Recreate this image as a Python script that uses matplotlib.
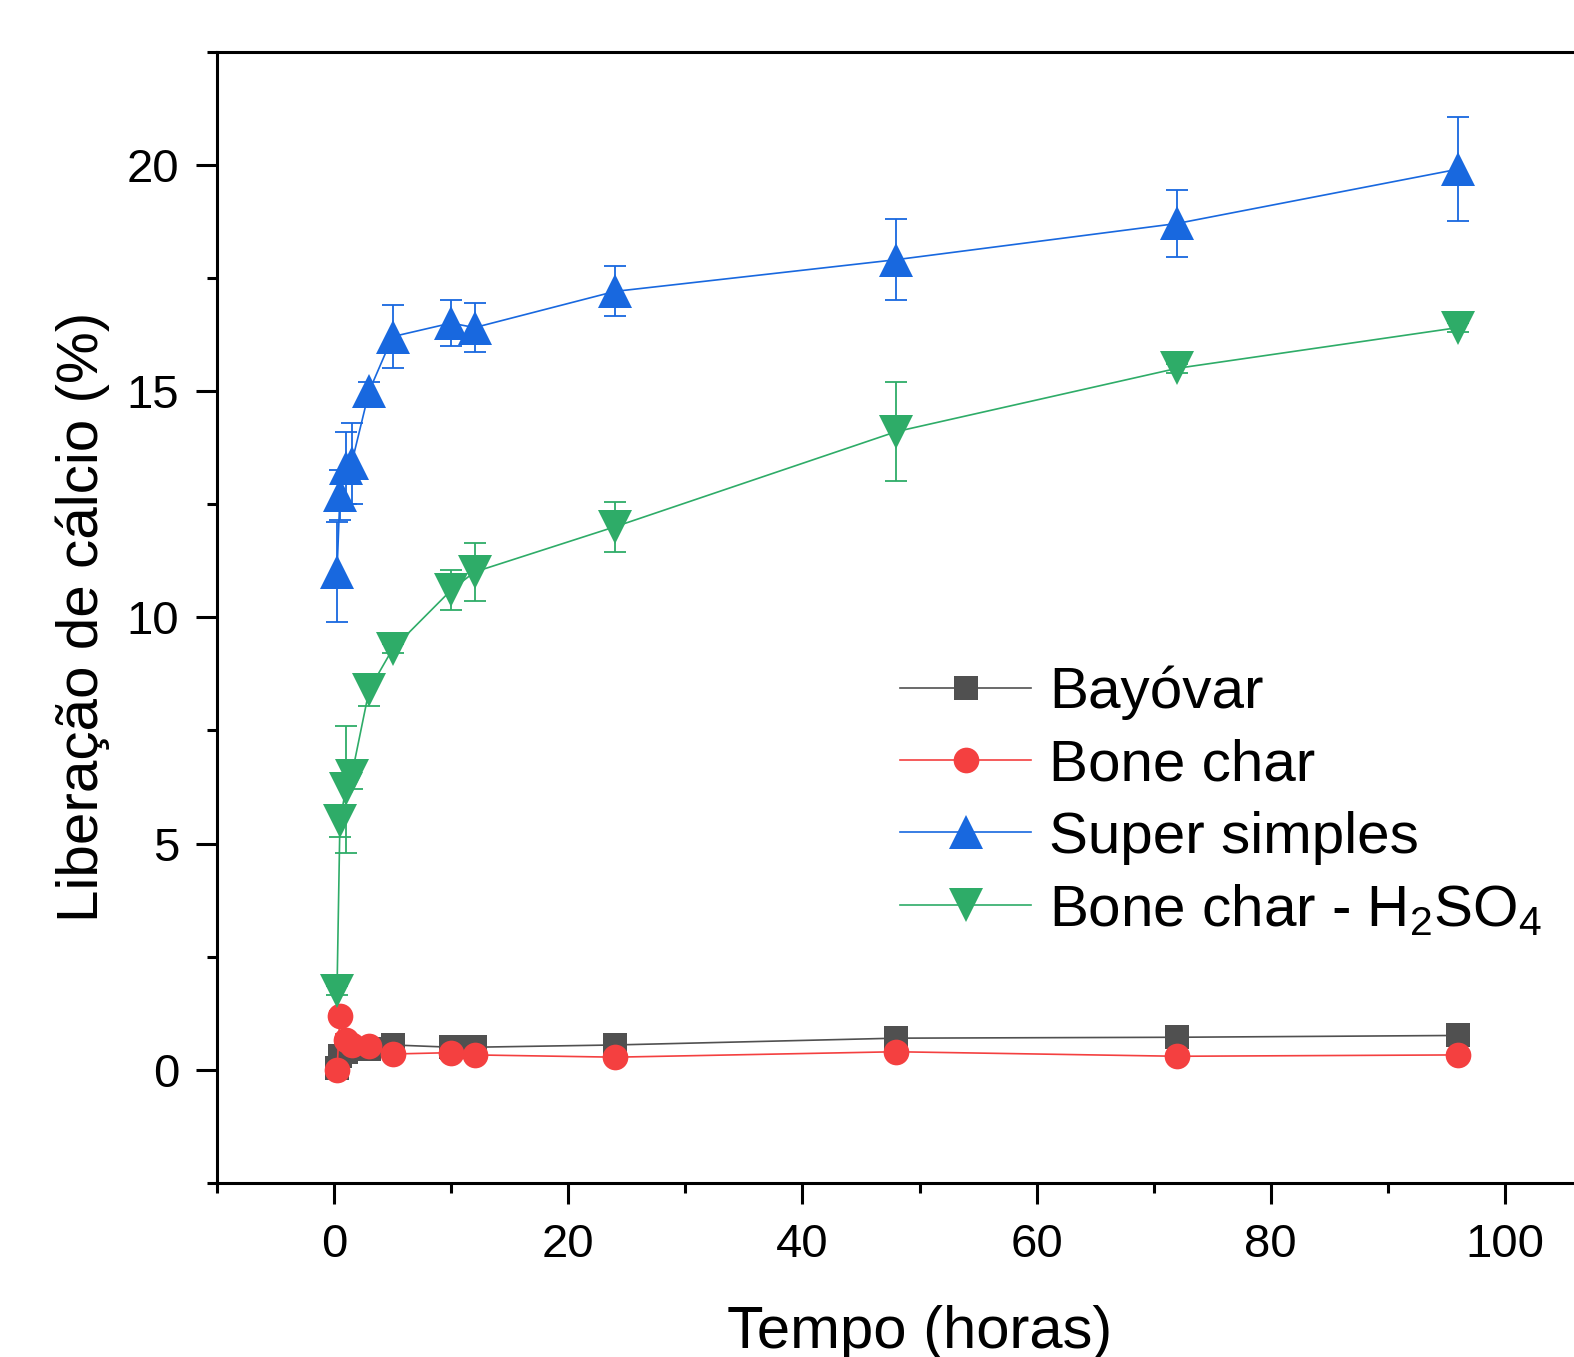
import matplotlib
matplotlib.use("Agg")
import matplotlib.pyplot as plt
from matplotlib.ticker import MultipleLocator

plt.rcParams['font.family'] = ['Liberation Sans', 'DejaVu Sans']
plt.rcParams['mathtext.fontset'] = 'custom'
plt.rcParams['mathtext.rm'] = 'Liberation Sans'
plt.rcParams['mathtext.it'] = 'Liberation Sans:italic'
plt.rcParams['mathtext.bf'] = 'Liberation Sans:bold'

# ---- data ----
tempo = [0.25, 0.5, 1, 1.5, 3, 5, 10, 12, 24, 48, 72, 96]

bayovar = [0.05, 0.3, 0.4, 0.45, 0.45, 0.55, 0.5, 0.5, 0.55, 0.7, 0.72, 0.76]
bayovar_err = [0.05, 0.1, 0.1, 0.1, 0.1, 0.05, 0.05, 0.05, 0.05, 0.05, 0.05, 0.05]

bone_char = [0.0, 1.2, 0.65, 0.55, 0.52, 0.35, 0.38, 0.33, 0.28, 0.4, 0.3, 0.33]
bone_char_err = [0.05, 0.1, 0.15, 0.15, 0.1, 0.1, 0.15, 0.12, 0.05, 0.05, 0.03, 0.03]

super_simples = [11.0, 12.7, 13.3, 13.4, 15.0, 16.2, 16.5, 16.4, 17.2, 17.9, 18.7, 19.9]
super_simples_err = [1.1, 0.55, 0.8, 0.9, 0.2, 0.7, 0.5, 0.55, 0.55, 0.9, 0.75, 1.15]

bone_char_h2so4 = [1.75, 5.5, 6.2, 6.5, 8.4, 9.3, 10.6, 11.0, 12.0, 14.1, 15.5, 16.4]
bone_char_h2so4_err = [0.1, 0.35, 1.4, 0.3, 0.35, 0.1, 0.45, 0.65, 0.55, 1.1, 0.1, 0.1]

labels = ['Bayóvar', 'Bone char', 'Super simples', r'Bone char - H$_2$SO$_4$']
colors = ['#505050', '#F44040', '#1868DF', '#2EAC68']
markers = ['s', 'o', '^', 'v']
msizes = [17, 18.5, 25, 25]

W, H = 1574, 1357
fig = plt.figure(figsize=(W / 100, H / 100), dpi=100)
left, right = 217 / W, 1622 / W
bottom, top = 1 - 1183 / H, 1 - 51.5 / H
ax = fig.add_axes([left, bottom, right - left, top - bottom])

series = [(bayovar, bayovar_err), (bone_char, bone_char_err),
          (super_simples, super_simples_err), (bone_char_h2so4, bone_char_h2so4_err)]
handles = []
for (vals, errs), lab, c, m, ms in zip(series, labels, colors, markers, msizes):
    h = ax.errorbar(tempo, vals, yerr=errs, color=c, marker=m, markersize=ms,
                    linewidth=1.2, elinewidth=1.3, capsize=8, capthick=1.3,
                    label=lab)
    h[0].set_markeredgewidth(0)
    handles.append(h)

ax.set_xlim(-10, 110)
ax.set_ylim(-2.5, 22.5)
ax.xaxis.set_major_locator(MultipleLocator(20))
ax.xaxis.set_minor_locator(MultipleLocator(10))
ax.yaxis.set_major_locator(MultipleLocator(5))
ax.yaxis.set_minor_locator(MultipleLocator(2.5))

for s in ax.spines.values():
    s.set_linewidth(2.2)
ax.tick_params(which='major', direction='out', length=15, width=2.2, labelsize=34)
ax.tick_params(axis='x', which='major', pad=14)
ax.tick_params(axis='y', which='major', pad=12)
ax.tick_params(which='minor', direction='out', length=7.5, width=2.2)

ax.set_xlabel('Tempo (horas)', fontsize=43, labelpad=27)
ax.set_ylabel('Liberação de cálcio (%)', fontsize=42, labelpad=12)

leg = fig.legend(handles=[h[0] for h in handles], labels=labels,
                 loc='upper left', bbox_to_anchor=(900 / W, 1 - 666 / H),
                 bbox_transform=fig.transFigure, frameon=False, fontsize=42,
                 borderpad=0, borderaxespad=0, handlelength=2.25,
                 handletextpad=0.3, labelspacing=0.31)

fig.savefig('out.png', dpi=100, facecolor='white')
